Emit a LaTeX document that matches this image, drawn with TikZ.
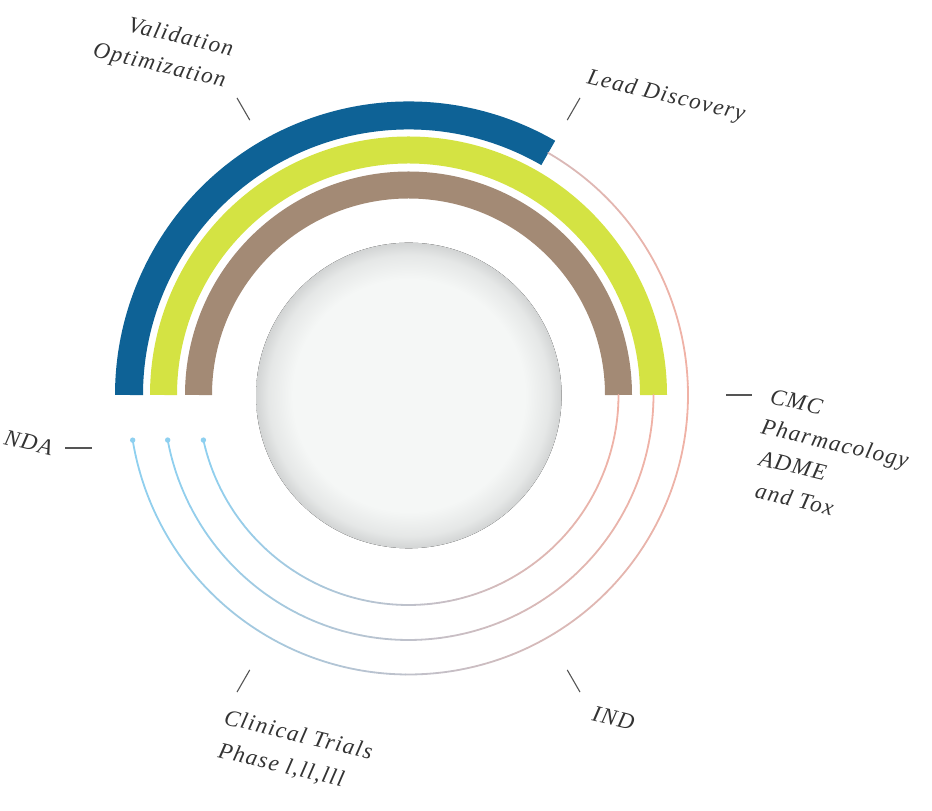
\documentclass[tikz,border=0pt]{standalone}
\usepackage{fontspec}
\newfontfamily\labfont[LetterSpace=6]{Liberation Serif}
\definecolor{cblue}{HTML}{0E6296}
\definecolor{clime}{HTML}{D4E343}
\definecolor{cbrown}{HTML}{A38A75}
\definecolor{cpink}{HTML}{F0B2A6}
\definecolor{csky}{HTML}{8ED0F0}
\definecolor{ctext}{HTML}{333333}
\definecolor{ctick}{HTML}{555555}
\definecolor{ballin}{HTML}{F5F7F6}
\definecolor{ballout}{HTML}{D2D4D4}
\pgfdeclareradialshading{ballshade}{\pgfpoint{0bp}{0bp}}{color(0bp)=(ballin); color(19bp)=(ballin); color(23bp)=(ballin!55!ballout); color(25bp)=(ballout); color(50bp)=(ballout)}
\tikzset{
  lab/.style={anchor=base west, inner sep=0pt, rotate=-13.5, text=ctext,
    font=\labfont\itshape\fontsize{23}{28}\selectfont},
  tickline/.style={draw=ctick, line width=1.1pt},
  band/.style={line width=#1, line cap=butt},
  thin/.style={line width=1.8pt, line cap=round}
}
\begin{document}
\begin{tikzpicture}[x=1pt,y=1pt]
\useasboundingbox (0,0) rectangle (932,811);
\coordinate (c) at (408.5,416);
% central ball
\fill[shading=ballshade] (408.8,415.5) circle (152.8);
% thick bands
\draw[cblue, band=28pt] ([shift={(60:279.5)}]c) arc[start angle=60, end angle=180, radius=279.5];
\draw[clime, band=27pt] ([shift={(0:245)}]c) arc[start angle=0, end angle=180, radius=245];
\draw[cbrown, band=27pt] ([shift={(0:210)}]c) arc[start angle=0, end angle=180, radius=210];
% thin gradient arcs
\foreach \rr/\sa/\ea in {279.5/60/-170.7, 245/0/-169.4, 210/0/-167.6}{
  \pgfmathsetmacro\stp{(\ea-\sa)/72}
  \foreach \i in {0,...,71}{
    \pgfmathsetmacro\angA{\sa+\stp*\i}
    \pgfmathsetmacro\angB{\sa+\stp*(\i+1)}
    \pgfmathsetmacro\mix{50+50*cos((\angA+\angB)/2)}
    \draw[thin, color=cpink!\mix!csky] ([shift={(\angA:\rr)}]c) arc[start angle=\angA, end angle=\angB, radius=\rr];
  }
  \fill[csky] ([shift={(\ea:\rr)}]c) circle (2.7);
}
% ticks
\foreach \a in {0,60,120,240,300}{
  \draw[tickline] ([shift={(\a:317.5)}]c) -- ([shift={(\a:343)}]c);
}
\coordinate (ndaA) at (65,363);
\coordinate (ndaB) at (92,363);
\draw[tickline] (ndaA) -- (ndaB);
% labels
\node[lab] (val) at (127,780) {Validation};
\node[lab] (opt) at (92,755) {Optimization};
\node[lab] (lead) at (586,728) {Lead Discovery};
\node[lab] (cmc) at (769,408) {CMC};
\node[lab] (pharm) at (760,378) {Pharmacology};
\node[lab] (adme) at (758,346) {ADME};
\node[lab] (tox) at (754,314) {and Tox};
\node[lab] (nda) at (3,367) {NDA};
\node[lab] (ind) at (591,91) {IND};
\node[lab] (clin) at (223,87) {Clinical Trials};
\node[lab] (phase) at (217,54) {Phase l,ll,lll};
\end{tikzpicture}
\end{document}
